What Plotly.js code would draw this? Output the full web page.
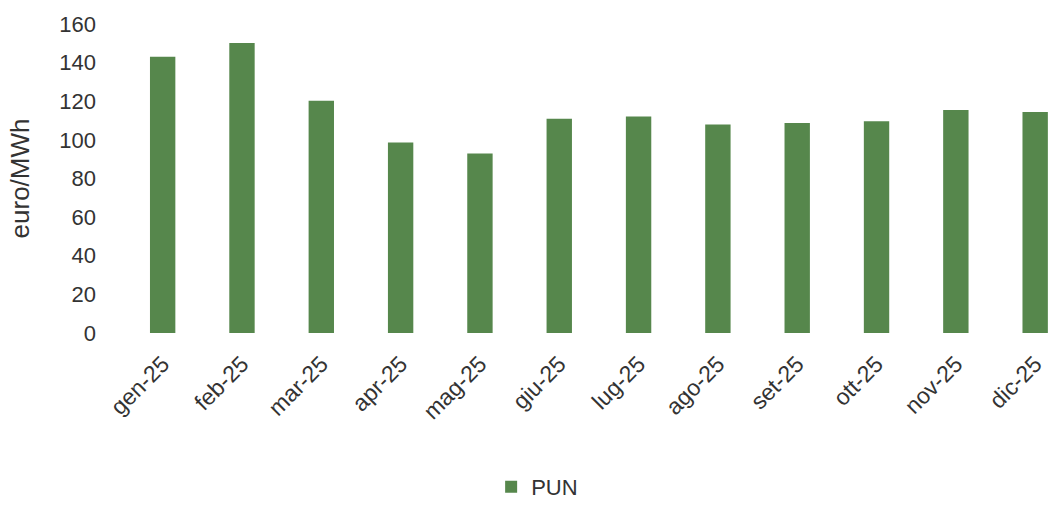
<!DOCTYPE html>
<html>
<head>
<meta charset="utf-8">
<script src="https://cdn.plot.ly/plotly-3.0.1.min.js"></script>
<style>html,body{margin:0;padding:0;background:#fff;}#chart{width:1055px;height:508px;}</style>
</head>
<body>
<div id="chart"></div>
<script>
const months = ["gen-25","feb-25","mar-25","apr-25","mag-25","giu-25","lug-25","ago-25","set-25","ott-25","nov-25","dic-25"];
const pun = [143.0, 150.1, 120.3, 98.7, 92.9, 110.9, 112.1, 107.9, 108.7, 109.6, 115.5, 114.4];
const seriesName = "PUN";
const yTicks = [0, 20, 40, 60, 80, 100, 120, 140, 160];

const trace = {
  type: "bar",
  x: months,
  y: pun,
  name: seriesName,
  marker: {color: "#56874c"},
  showlegend: true
};

const txt = "#333333";
const layout = {
  width: 1055,
  height: 508,
  margin: {l: 123, r: 0, t: 24, b: 171},
  paper_bgcolor: "#ffffff",
  plot_bgcolor: "#ffffff",
  bargap: 0.68,
  font: {family: "Liberation Sans, Arial, sans-serif", color: txt, size: 22},
  xaxis: {
    type: "category",
    range: [-0.5, 11.25],
    tickangle: -45,
    showgrid: false,
    showline: false,
    zeroline: false,
    ticks: "",
    ticklabelstandoff: 12,
    tickfont: {size: 23, color: txt},
    automargin: false
  },
  yaxis: {
    range: [0, 160],
    tickvals: yTicks,
    showgrid: false,
    showline: false,
    zeroline: false,
    ticks: "",
    ticklabelstandoff: 26,
    tickfont: {size: 22, color: txt},
    title: {text: "euro/MWh", font: {size: 26, color: txt}, standoff: 22},
    automargin: false
  },
  legend: {
    orientation: "h",
    x: 0.395,
    xanchor: "left",
    y: -0.50,
    yanchor: "middle",
    font: {size: 22, color: txt}
  }
};

Plotly.newPlot("chart", [trace], layout, {displayModeBar: false, staticPlot: true});
</script>
</body>
</html>
